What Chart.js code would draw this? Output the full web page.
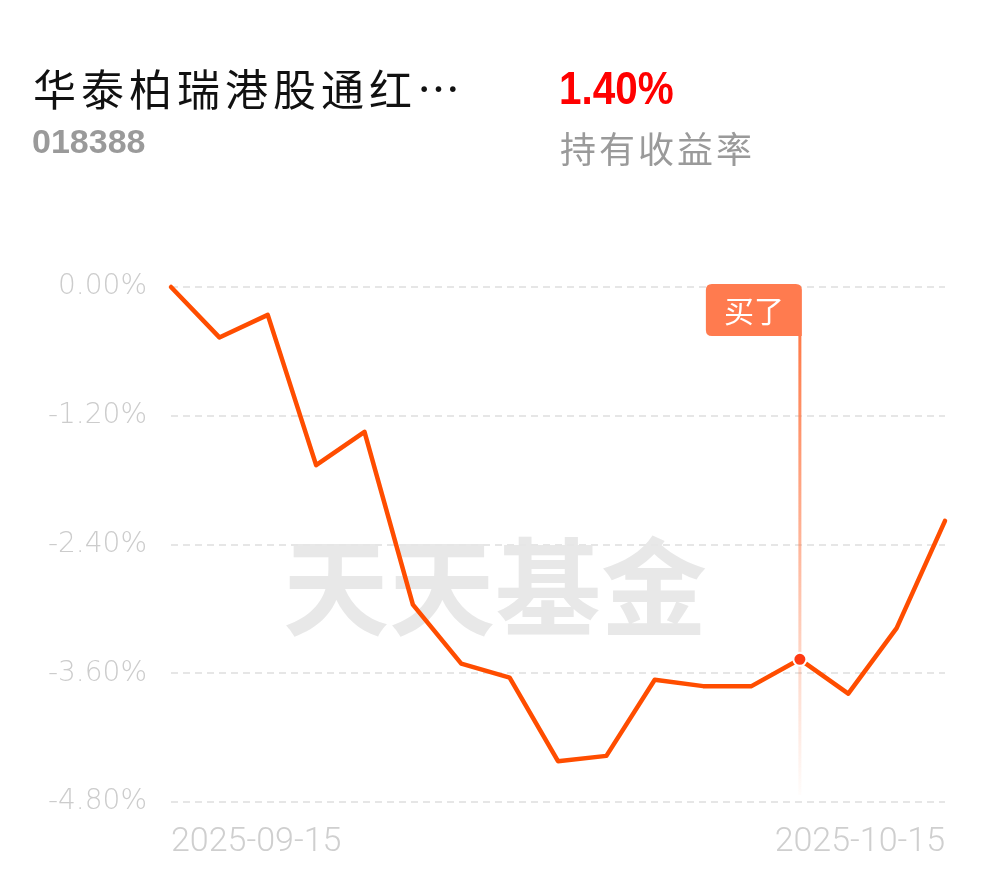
<!DOCTYPE html>
<html>
<head>
<meta charset="utf-8">
<script src="https://cdn.jsdelivr.net/npm/chart.js@4.4.1/dist/chart.umd.min.js"></script>
<style>
  html, body { margin: 0; padding: 0; background: #fff; }
  #wrap { position: relative; width: 990px; height: 877px; overflow: hidden; }
  #c { position: absolute; left: 0; top: 0; }
  .t { position: absolute; line-height: 1; white-space: nowrap; }
  #title { left: 33px; top: 66px; font-size: 43px; color: #111; font-family: "Noto Sans CJK SC", sans-serif; letter-spacing: 5px; }
  #code { left: 32px; top: 124px; font-size: 34px; font-weight: bold; color: #9a9a9a; font-family: "Liberation Sans", Arial, sans-serif; }
  #ret { left: 559px; top: 64px; font-size: 47px; font-weight: bold; color: #f00; font-family: "Liberation Sans", Arial, sans-serif; transform: scaleX(0.86); transform-origin: 0 0; }
  #retlab { left: 560px; top: 129px; font-size: 36px; color: #9a9a9a; font-family: "Noto Sans CJK SC", sans-serif; letter-spacing: 3px; }
</style>
</head>
<body>
<div id="wrap">
  <canvas id="c" width="990" height="877"></canvas>
  <div class="t" id="title"></div>
  <div class="t" id="code"></div>
  <div class="t" id="ret"></div>
  <div class="t" id="retlab"></div>
</div>
<script>
// ---- data ----
const fundName = "华泰柏瑞港股通红…";
const fundCode = "018388";
const holdReturn = "1.40%";
const holdReturnLabel = "持有收益率";
const watermarkText = "天天基金";
const buyLabel = "买了";
const buyDate = "2025-10-10";

const dates = [
  "2025-09-15","2025-09-16","2025-09-17","2025-09-18","2025-09-19",
  "2025-09-22","2025-09-23","2025-09-24","2025-09-25","2025-09-26",
  "2025-09-29","2025-09-30","2025-10-09","2025-10-10","2025-10-13",
  "2025-10-14","2025-10-15"
];
const returns = [
  0.00, -0.47, -0.26, -1.66, -1.35,
  -2.96, -3.51, -3.64, -4.42, -4.37,
  -3.66, -3.72, -3.72, -3.47, -3.79,
  -3.18, -2.18
];
const yTicks = [0.00, -1.20, -2.40, -3.60, -4.80];

// ---- header ----
document.getElementById('title').textContent = fundName;
document.getElementById('code').textContent = fundCode;
document.getElementById('ret').textContent = holdReturn;
document.getElementById('retlab').textContent = holdReturnLabel;

const buyIndex = dates.indexOf(buyDate);
const lastIndex = dates.length - 1;

const decoPlugin = {
  id: 'deco',
  beforeDraw(chart) {
    const ctx = chart.ctx;
    ctx.save();
    ctx.fillStyle = '#e8e8e8';
    ctx.font = 'bold 106px "Noto Sans CJK SC", sans-serif';
    ctx.textAlign = 'center';
    ctx.textBaseline = 'middle';
    ctx.fillText(watermarkText, 495, 587);
    ctx.restore();
  },
  beforeDatasetsDraw(chart) {
    if (buyIndex < 0) return;
    const ctx = chart.ctx;
    const xs = chart.scales.x;
    const area = chart.chartArea;
    const x = xs.getPixelForValue(buyIndex);
    const boxW = 96, boxH = 52;
    const boxR = x + 2, boxT = area.top - 3;
    const boxL = boxR - boxW, boxB = boxT + boxH;
    ctx.save();
    const g = ctx.createLinearGradient(0, boxB, 0, area.bottom - 7);
    g.addColorStop(0, 'rgba(255,122,72,1)');
    g.addColorStop(1, 'rgba(255,122,72,0.02)');
    ctx.fillStyle = g;
    ctx.fillRect(x - 1.5, boxB, 3, area.bottom - 7 - boxB);
    ctx.fillStyle = '#ff7b4f';
    const r = 6;
    ctx.beginPath();
    ctx.moveTo(boxL + r, boxT);
    ctx.lineTo(boxR - r, boxT);
    ctx.quadraticCurveTo(boxR, boxT, boxR, boxT + r);
    ctx.lineTo(boxR, boxB);
    ctx.lineTo(boxL + r, boxB);
    ctx.quadraticCurveTo(boxL, boxB, boxL, boxB - r);
    ctx.lineTo(boxL, boxT + r);
    ctx.quadraticCurveTo(boxL, boxT, boxL + r, boxT);
    ctx.closePath();
    ctx.fill();
    ctx.fillStyle = '#fff';
    ctx.font = '30px "Noto Sans CJK SC", sans-serif';
    ctx.textAlign = 'center';
    ctx.textBaseline = 'middle';
    ctx.fillText(buyLabel, (boxL + boxR) / 2, (boxT + boxB) / 2 + 1);
    ctx.restore();
  }
};

new Chart(document.getElementById('c'), {
  type: 'line',
  data: {
    labels: dates,
    datasets: [{
      data: returns,
      borderColor: '#ff4d00',
      borderWidth: 4.5,
      tension: 0,
      borderJoinStyle: 'round',
      borderCapStyle: 'round',
      pointRadius: dates.map((d, i) => i === buyIndex ? 6.5 : 0),
      pointHoverRadius: 0,
      pointBackgroundColor: '#ff3a12',
      pointBorderColor: '#ffffff',
      pointBorderWidth: 2,
      clip: false
    }]
  },
  options: {
    responsive: false,
    animation: false,
    events: [],
    layout: { padding: { top: 287, right: 45, left: 0, bottom: 0 } },
    plugins: { legend: { display: false }, tooltip: { enabled: false } },
    scales: {
      x: {
        type: 'category',
        offset: false,
        grid: { display: false, drawTicks: false },
        border: { display: false },
        afterFit(s) { s.height = 75; },
        ticks: {
          autoSkip: false,
          maxRotation: 0,
          minRotation: 0,
          align: 'inner',
          padding: 20,
          color: '#cfcfcf',
          font: { family: 'Roboto, "Liberation Sans", sans-serif', size: 34, weight: '300' },
          callback(v, i) { return (i === 0 || i === lastIndex) ? dates[i] : ''; }
        }
      },
      y: {
        min: yTicks[yTicks.length - 1],
        max: yTicks[0],
        afterFit(s) { s.width = 171; },
        afterBuildTicks(s) { s.ticks = yTicks.map(v => ({ value: v })); },
        grid: { color: '#e6e6e6', lineWidth: 2, drawTicks: false },
        border: { display: false, dash: [7, 5] },
        ticks: {
          padding: 24,
          color: '#cccccc',
          font: { family: '"DejaVu Sans", sans-serif', size: 28, weight: '200' },
          callback(v) { return v.toFixed(2) + '%'; }
        }
      }
    }
  },
  plugins: [decoPlugin]
});
</script>
</body>
</html>
